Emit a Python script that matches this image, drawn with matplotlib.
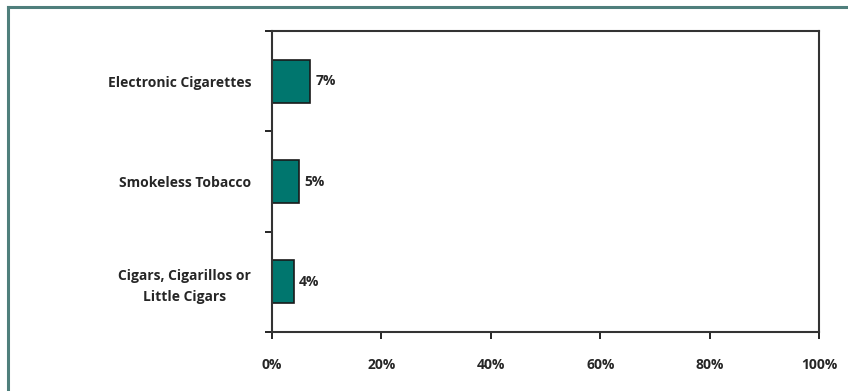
import matplotlib.pyplot as plt
from matplotlib.lines import Line2D
from matplotlib.ticker import PercentFormatter

# tobacco product use, percent
products = ["Cigars, Cigarillos or\nLittle Cigars", "Smokeless Tobacco", "Electronic Cigarettes"]
percents = [4, 5, 7]
xticks = [0, 20, 40, 60, 80, 100]

bar_color = "#00766e"
text_color = "#262626"

plt.rcParams["font.family"] = ["Open Sans", "DejaVu Sans"]
fig = plt.figure(figsize=(8.48, 3.91), dpi=100)

# outer frame: only left and top edges show
fx, fy = 7.5 / 848, 1 - 6.5 / 391
frame_kw = dict(transform=fig.transFigure, color="#4f7f7c", linewidth=2.2)
fig.lines.append(Line2D([fx, fx], [0, fy], **frame_kw))
fig.lines.append(Line2D([fx, 1], [fy, fy], **frame_kw))

ax = fig.add_axes([272 / 848, 59 / 391, 547 / 848, 301 / 391])
y = range(len(products))
ax.barh(y, percents, height=0.43, color=bar_color, edgecolor="#1a1a1a", linewidth=1.2)

for yi, v in zip(y, percents):
    ax.text(v + 0.9, yi, f"{v}%", va="center", ha="left", fontsize=10,
            fontweight="bold", color=text_color)

ax.set_xlim(0, 100)
ax.set_ylim(-0.5, len(products) - 0.5)
ax.set_xticks(xticks)
ax.xaxis.set_major_formatter(PercentFormatter(decimals=0))

# category labels sit between boundary ticks
ax.set_yticks([-0.5, 0.5, 1.5, 2.5])
ax.set_yticklabels([])
ax.set_yticks(list(y), minor=True)
ax.set_yticklabels(products, minor=True, fontsize=10, fontweight="bold",
                   color=text_color, ha="right", multialignment="center",
                   linespacing=1.6)
ax.tick_params(axis="y", which="minor", length=0, pad=15)
ax.tick_params(axis="y", which="major", length=5, width=1.2, direction="out")
ax.tick_params(axis="x", length=5, width=1.2, direction="out", pad=14,
               labelsize=10, labelcolor=text_color)
for lbl in ax.get_xticklabels():
    lbl.set_fontweight("bold")

for s in ax.spines.values():
    s.set_linewidth(1.5)
    s.set_color("#333333")

fig.savefig("out.png", dpi=100)
